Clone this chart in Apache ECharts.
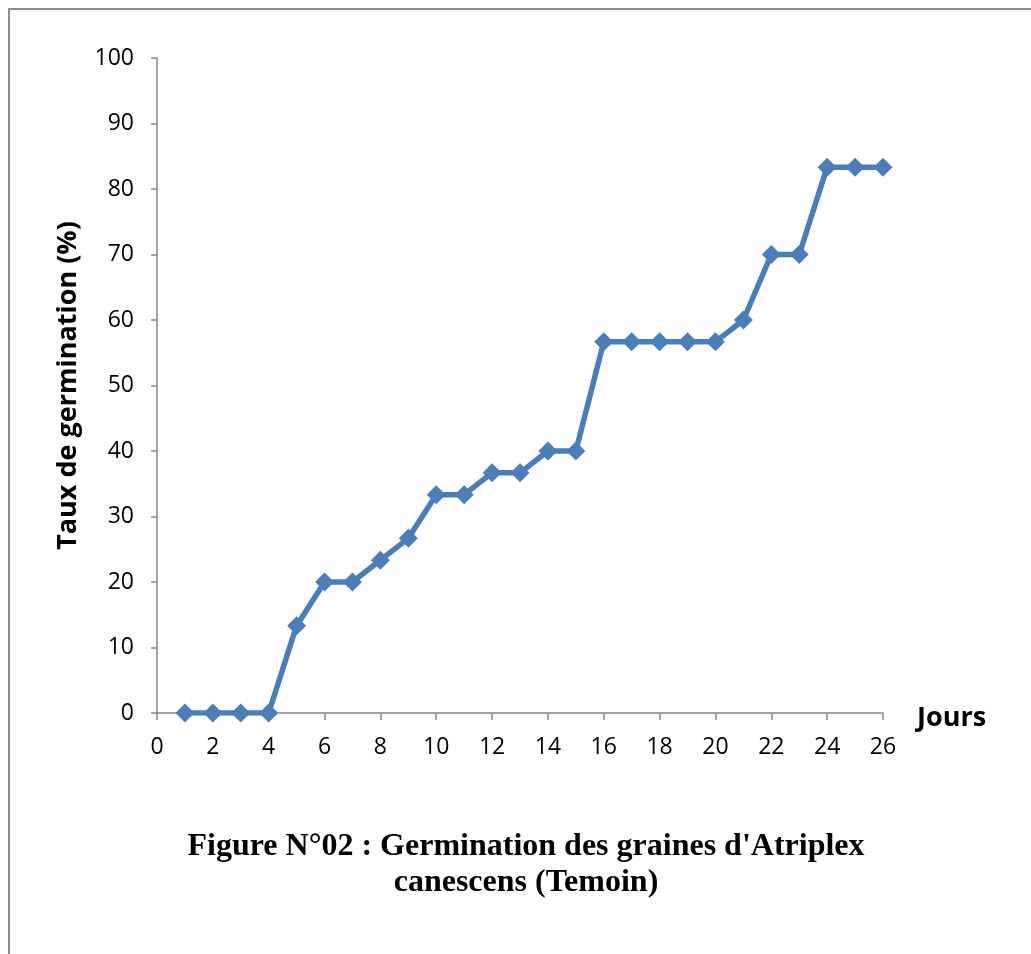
<!DOCTYPE html>
<html>
<head>
<meta charset="utf-8">
<script src="https://cdn.jsdelivr.net/npm/echarts@6/dist/echarts.min.js"></script>
<style>
  html, body { margin: 0; padding: 0; background: #fff; }
  #frame { position: absolute; left: 8px; top: 8px; width: 1100px; height: 1000px;
           border-top: 2px solid #8c8c8c; border-left: 2px solid #8c8c8c; }
  #chart { position: absolute; left: 0; top: 0; width: 1031px; height: 954px; }
</style>
</head>
<body>
<div id="frame"></div>
<div id="chart"></div>
<script>
  // jours et taux de germination (%)
  var jours = [1, 2, 3, 4, 5, 6, 7, 8, 9, 10, 11, 12, 13, 14, 15, 16, 17, 18, 19, 20, 21, 22, 23, 24, 25, 26]
  var taux = [0, 0, 0, 0, 13.33, 20, 20, 23.33, 26.67, 33.33, 33.33, 36.67, 36.67, 40, 40,
    56.67, 56.67, 56.67, 56.67, 56.67, 60, 70, 70, 83.33, 83.33, 83.33]

  var points = jours.map(function (j, i) { return [j, taux[i]] })

  var myChart = echarts.init(document.getElementById('chart'))
  var axisGrey = '#868686'
  var option = {
    backgroundColor: 'transparent',
    animation: false,
    title: {
      text: "Figure N°02 : Germination des graines d'Atriplex\ncanescens (Temoin)",
      left: 521,
      top: 824,
      textAlign: 'center',
      textStyle: {
        fontFamily: 'Liberation Serif',
        fontWeight: 'bold',
        fontSize: 32,
        lineHeight: 36,
        color: '#000'
      }
    },
    grid: {
      left: 157,
      right: 148,
      top: 58,
      bottom: 241
    },
    xAxis: {
      type: 'value',
      min: 0,
      max: 26,
      interval: 2,
      name: 'Jours',
      nameLocation: 'end',
      nameGap: 34,
      nameTextStyle: {
        fontFamily: 'Open Sans',
        fontWeight: 'bold',
        fontSize: 27,
        color: '#000',
        verticalAlign: 'top',
        lineHeight: 10
      },
      splitLine: { show: false },
      axisLine: { lineStyle: { color: axisGrey, width: 1.5 } },
      axisTick: { length: 7, lineStyle: { color: axisGrey, width: 1.5 } },
      axisLabel: {
        margin: 23,
        fontFamily: 'Open Sans',
        fontSize: 23,
        color: '#000'
      }
    },
    yAxis: {
      type: 'value',
      min: 0,
      max: 100,
      interval: 10,
      name: 'Taux de germination (%)',
      nameLocation: 'middle',
      nameGap: 75,
      nameRotate: 90,
      nameTextStyle: {
        fontFamily: 'Open Sans',
        fontWeight: 'bold',
        fontSize: 27,
        color: '#000'
      },
      splitLine: { show: false },
      axisLine: { show: true, lineStyle: { color: axisGrey, width: 1.5 } },
      axisTick: { show: true, length: 6, lineStyle: { color: axisGrey, width: 1.5 } },
      axisLabel: {
        margin: 23,
        fontFamily: 'Open Sans',
        fontSize: 23,
        color: '#000'
      }
    },
    series: [{
      type: 'line',
      data: points,
      symbol: 'diamond',
      symbolSize: 19,
      lineStyle: { color: '#4a7ebb', width: 5.5 },
      itemStyle: { color: '#4a7ebb' }
    }]
  }
  myChart.setOption(option)
  window.onresize = function () {
    myChart.resize()
  }
</script>
</body>
</html>
